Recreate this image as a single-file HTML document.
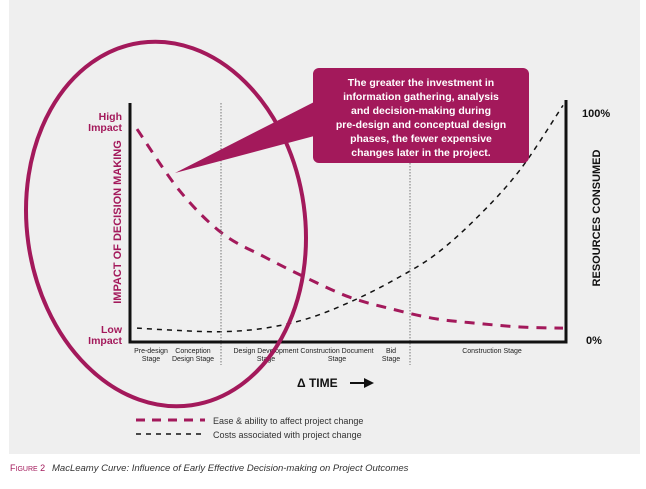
<!DOCTYPE html>
<html><head><meta charset="utf-8"><style>
body{margin:0;background:#fff;width:646px;height:484px;overflow:hidden;font-family:"Liberation Sans",sans-serif}
</style></head><body>
<svg width="646" height="484" viewBox="0 0 646 484">
<rect x="9" y="0" width="631" height="454" fill="#efefef"/>
<g id="plot"></g>
<line x1="221" y1="103" x2="221" y2="365" stroke="#777" stroke-width="1" stroke-dasharray="1.5,1.5"/>
<line x1="410" y1="103" x2="410" y2="365" stroke="#777" stroke-width="1" stroke-dasharray="1.5,1.5"/>
<path d="M130 103 V342 H566 V100" fill="none" stroke="#111" stroke-width="3"/>
<g font-size="7" fill="#222" text-anchor="middle">
<text x="151" y="353">Pre-design</text><text x="151" y="361">Stage</text>
<text x="193" y="353">Conception</text><text x="193" y="361">Design Stage</text>
<text x="266" y="353">Design Development</text><text x="266" y="361">Stage</text>
<text x="337" y="353">Construction Document</text><text x="337" y="361">Stage</text>
<text x="391" y="353">Bid</text><text x="391" y="361">Stage</text>
<text x="492" y="353">Construction Stage</text>
</g>
<text x="122" y="120" font-size="10.5" font-weight="bold" fill="#a3195b" text-anchor="end">High</text>
<text x="122" y="131" font-size="10.5" font-weight="bold" fill="#a3195b" text-anchor="end">Impact</text>
<text x="122" y="333" font-size="10.5" font-weight="bold" fill="#a3195b" text-anchor="end">Low</text>
<text x="122" y="344" font-size="10.5" font-weight="bold" fill="#a3195b" text-anchor="end">Impact</text>
<text transform="translate(121,222) rotate(-90)" font-size="11" font-weight="bold" fill="#a3195b" text-anchor="middle">IMPACT OF DECISION MAKING</text>
<text transform="translate(600,218) rotate(-90)" font-size="11" font-weight="bold" fill="#111" text-anchor="middle">RESOURCES CONSUMED</text>
<text x="582" y="117" font-size="11" font-weight="bold" fill="#111">100%</text>
<text x="586" y="344" font-size="11" font-weight="bold" fill="#111">0%</text>
<text x="297" y="387" font-size="12" font-weight="bold" fill="#111">Δ TIME</text>
<path d="M350 383 H366" stroke="#111" stroke-width="2"/>
<polygon points="364,378 374,383 364,388" fill="#111"/>
<ellipse cx="166" cy="224" rx="139" ry="183" transform="rotate(-8 166 224)" fill="none" stroke="#a3195b" stroke-width="4"/>
<polygon points="175,173 318,100 318,135" fill="#a3195b"/>
<rect x="313" y="68" width="216" height="95" rx="6" fill="#a3195b"/>
<g font-size="10.5" font-weight="bold" fill="#fff" text-anchor="middle">
<text x="421" y="86">The greater the investment in</text>
<text x="421" y="100">information gathering, analysis</text>
<text x="421" y="114">and decision-making during</text>
<text x="421" y="128">pre-design and conceptual design</text>
<text x="421" y="142">phases, the fewer expensive</text>
<text x="421" y="156">changes later in the project.</text>
</g>
<line x1="136" y1="420" x2="205" y2="420" stroke="#a3195b" stroke-width="3" stroke-dasharray="9,7"/>
<text x="213" y="424" font-size="9" fill="#333">Ease &amp; ability to affect project change</text>
<line x1="136" y1="434" x2="205" y2="434" stroke="#111" stroke-width="1.5" stroke-dasharray="5,5"/>
<text x="213" y="438" font-size="9" fill="#333">Costs associated with project change</text>
<text x="10" y="471" font-size="9" fill="#a3195b">F<tspan font-size="7">IGURE</tspan> 2</text>
<text x="52" y="471" font-size="9.5" font-style="italic" fill="#333">MacLeamy Curve: Influence of Early Effective Decision-making on Project Outcomes</text>
</svg>
<script>
// time fraction (0..1 along x axis) and values (0..1 of y axis)
const tPoints=[0,0.1,0.2,0.3,0.4,0.5,0.6,0.7,0.8,0.9,1];
const easeValues=[0.89,0.63,0.45,0.35,0.26,0.18,0.13,0.09,0.07,0.055,0.05];
const costValues=[0.05,0.04,0.035,0.05,0.09,0.16,0.25,0.36,0.52,0.72,0.99];
const x0=137,x1=563,yBot=340,yTop=103;
const xs=t=>x0+t*(x1-x0), ys=v=>yBot-v*(yBot-yTop);
function path(vals){
  const p=tPoints.map((t,i)=>[xs(t),ys(vals[i])]);
  let d='M'+p[0][0]+' '+p[0][1];
  for(let i=0;i<p.length-1;i++){
    const a=p[Math.max(0,i-1)],b=p[i],c=p[i+1],e=p[Math.min(p.length-1,i+2)];
    d+=' C'+(b[0]+(c[0]-a[0])/6)+' '+(b[1]+(c[1]-a[1])/6)+' '+(c[0]-(e[0]-b[0])/6)+' '+(c[1]-(e[1]-b[1])/6)+' '+c[0]+' '+c[1];
  }
  return d;
}
const g=document.getElementById('plot'),NS='http://www.w3.org/2000/svg';
const e=document.createElementNS(NS,'path');
e.setAttribute('d',path(easeValues));e.setAttribute('fill','none');e.setAttribute('stroke','#a3195b');e.setAttribute('stroke-width','3');e.setAttribute('stroke-dasharray','10,8');


g.appendChild(e);
const c=document.createElementNS(NS,'path');
c.setAttribute('d',path(costValues));c.setAttribute('fill','none');c.setAttribute('stroke','#111');c.setAttribute('stroke-width','1.5');c.setAttribute('stroke-dasharray','5,5');


g.appendChild(c);
</script>
</body></html>
